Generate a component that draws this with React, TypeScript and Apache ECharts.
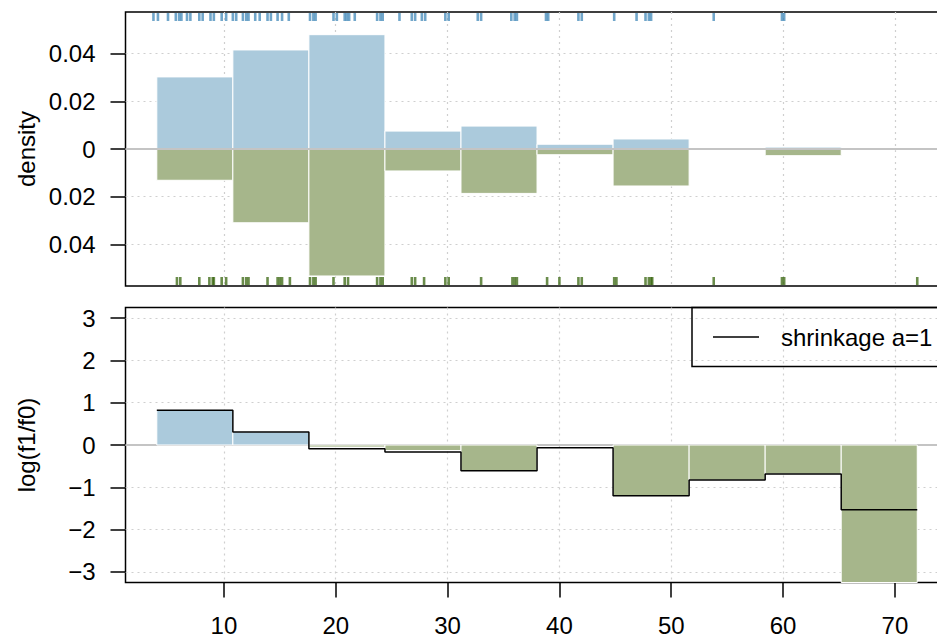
import React, { useEffect, useRef } from "react";
import * as echarts from "echarts";

// ---- data ----
const binEdges = [4, 10.8, 17.6, 24.4, 31.2, 38, 44.8, 51.6, 58.4, 65.2, 72];
const densityF1 = [0.0302, 0.0415, 0.0479, 0.0075, 0.0096, 0.002, 0.0042, 0.0003, 0.0008, 0];
const densityF0 = [0.0131, 0.0309, 0.0532, 0.0092, 0.0186, 0.0024, 0.0155, 0.0003, 0.0028, 0.0003];
const logRatioBars = [0.82, 0.31, -0.05, -0.13, -0.61, 0, -1.2, -0.83, -0.685, -3.25];
const shrinkageA1 = [0.82, 0.31, -0.087, -0.165, -0.61, -0.063, -1.2, -0.83, -0.685, -1.53];
const rugF1 = [
  3.7, 4.1, 5.0, 5.7, 6.0, 6.2, 6.7, 7.0, 7.8, 8.1, 8.8, 9.1, 9.8, 10.2, 10.8, 11.1,
  11.7, 12.0, 12.2, 12.8, 13.2, 13.9, 14.2, 14.8, 15.2, 15.8, 17.7, 18.0, 18.2, 19.8,
  20.1, 20.8, 21.0, 21.2, 21.7, 23.7, 24.0, 24.2, 25.7, 26.8, 27.1, 27.7, 28.0, 29.8,
  30.1, 32.7, 33.0, 35.7, 36.0, 36.2, 38.8, 39.0, 41.7, 42.0, 44.9, 46.9, 47.7, 48.0,
  48.2, 53.8, 59.9, 60.1,
];
const rugF0 = [
  5.8, 6.1, 7.8, 8.7, 9.0, 9.1, 9.8, 10.2, 11.7, 12.0, 12.2, 13.9, 14.8, 15.0, 15.2,
  15.9, 17.7, 18.0, 18.2, 19.8, 20.8, 21.1, 23.7, 24.0, 24.2, 26.8, 27.1, 27.9, 29.8,
  30.1, 33.0, 35.8, 36.0, 36.2, 38.9, 40.0, 41.7, 42.0, 44.9, 45.1, 47.7, 48.0, 48.2,
  48.3, 53.8, 59.9, 60.1, 72.0,
];
const xTicks = [10, 20, 30, 40, 50, 60, 70];
const densityTicks = [-0.04, -0.02, 0, 0.02, 0.04];
const logTicks = [-3, -2, -1, 0, 1, 2, 3];
const X_RANGE = [1.2, 74.8];
const DENSITY_RANGE = [-0.0574, 0.0574];
const LOG_RANGE = [-3.25, 3.25];
const legendLabel = "shrinkage a=1";

const BLUE = "#abcadc";
const GREEN = "#a6b68b";
const FONT = "Liberation Sans, Arial, Helvetica, sans-serif";

function barRender(params: any, api: any) {
  const x0 = api.value(0);
  const x1 = api.value(1);
  const v = api.value(2);
  if (v === 0) return { type: "group", children: [] };
  const p0 = api.coord([x0, 0]);
  const p1 = api.coord([x1, v]);
  const cs = params.coordSys;
  let yTop = Math.min(p0[1], p1[1]);
  let yBot = Math.max(p0[1], p1[1]);
  yTop = Math.max(yTop, cs.y);
  yBot = Math.min(yBot, cs.y + cs.height);
  return {
    type: "rect",
    shape: { x: p0[0], y: yTop, width: p1[0] - p0[0], height: yBot - yTop },
    style: { fill: v >= 0 ? BLUE : GREEN, stroke: "#ffffff", lineWidth: 1 },
  };
}

function rugRender(top: boolean, color: string) {
  return (params: any, api: any) => {
    const x = api.coord([api.value(0), 0])[0];
    const cs = params.coordSys;
    const y1 = top ? cs.y + 1 : cs.y + cs.height - 9;
    const y2 = top ? cs.y + 9 : cs.y + cs.height - 1;
    return {
      type: "line",
      shape: { x1: x, y1, x2: x, y2 },
      style: { stroke: color, lineWidth: 2.6 },
    };
  };
}

const splitLine = {
  show: true,
  lineStyle: { color: "#cfcfcf", type: [2, 4], width: 1.2 },
};

export default function App() {
  const ref = useRef<HTMLDivElement>(null);
  useEffect(() => {
    if (!ref.current) return;
    const chart = echarts.init(ref.current, undefined, { renderer: "svg" });
    const bins = binEdges.slice(0, -1);
    const topF1 = bins.map((e, i) => [e, binEdges[i + 1], densityF1[i]]);
    const topF0 = bins.map((e, i) => [e, binEdges[i + 1], -densityF0[i]]);
    const lowBars = bins.map((e, i) => [e, binEdges[i + 1], logRatioBars[i]]);
    const stepData = binEdges.map((e, i) => [e, shrinkageA1[Math.min(i, shrinkageA1.length - 1)]]);
    const zeroLine = [
      [X_RANGE[0], 0],
      [X_RANGE[1], 0],
    ];

    const gridW = (X_RANGE[1] - X_RANGE[0]) * 11.183;

    chart.setOption({
      animation: false,
      backgroundColor: "#ffffff",
      textStyle: { fontFamily: FONT },
      grid: [
        { left: 125.5, width: gridW, top: 12, height: 274, show: true, borderColor: "#000", borderWidth: 1.5, backgroundColor: "transparent" },
        { left: 125.5, width: gridW, top: 307.5, height: 275, show: true, borderColor: "#000", borderWidth: 1.5, backgroundColor: "transparent" },
      ],
      xAxis: [
        {
          type: "value",
          gridIndex: 0,
          position: "bottom",
          min: X_RANGE[0],
          max: X_RANGE[1],
          axisLine: { show: false, onZero: false },
          axisTick: { show: false, customValues: xTicks },
          axisLabel: { show: false, customValues: xTicks },
          splitLine,
        },
        {
          type: "value",
          gridIndex: 1,
          position: "bottom",
          min: X_RANGE[0],
          max: X_RANGE[1],
          axisLine: { show: false, onZero: false },
          axisTick: { show: true, length: 15, customValues: xTicks, lineStyle: { color: "#000", width: 1.5 } },
          axisLabel: { customValues: xTicks, fontSize: 24, color: "#000", fontFamily: FONT, margin: 31 },
          splitLine,
        },
      ],
      yAxis: [
        {
          type: "value",
          gridIndex: 0,
          min: DENSITY_RANGE[0],
          max: DENSITY_RANGE[1],
          axisLine: { show: false, onZero: false },
          axisTick: { show: true, length: 15, customValues: densityTicks, lineStyle: { color: "#000", width: 1.5 } },
          axisLabel: {
            customValues: densityTicks,
            fontSize: 24,
            color: "#000",
            fontFamily: FONT,
            margin: 30,
            formatter: (v: number) => (Math.abs(v) < 1e-9 ? "0" : String(Math.round(Math.abs(v) * 100) / 100)),
          },
          splitLine,
        },
        {
          type: "value",
          gridIndex: 1,
          min: LOG_RANGE[0],
          max: LOG_RANGE[1],
          axisLine: { show: false, onZero: false },
          axisTick: { show: true, length: 15, customValues: logTicks, lineStyle: { color: "#000", width: 1.5 } },
          axisLabel: {
            customValues: logTicks,
            fontSize: 24,
            color: "#000",
            fontFamily: FONT,
            margin: 30,
            formatter: (v: number) => (v < 0 ? "\u2212" + Math.abs(Math.round(v)) : String(Math.round(v))),
          },
          splitLine,
        },
      ],
      series: [
        {
          type: "custom",
          name: "f1 density",
          xAxisIndex: 0,
          yAxisIndex: 0,
          renderItem: barRender,
          encode: { x: [0, 1], y: 2 },
          data: topF1,
          z: 2,
        },
        {
          type: "custom",
          name: "f0 density",
          xAxisIndex: 0,
          yAxisIndex: 0,
          renderItem: barRender,
          encode: { x: [0, 1], y: 2 },
          data: topF0,
          z: 2,
        },
        {
          type: "line",
          xAxisIndex: 0,
          yAxisIndex: 0,
          data: zeroLine,
          symbol: "none",
          lineStyle: { color: "#c4c4c4", width: 2 },
          z: 3,
          silent: true,
        },
        {
          type: "custom",
          name: "rug f1",
          xAxisIndex: 0,
          yAxisIndex: 0,
          renderItem: rugRender(true, "rgba(52,128,180,0.7)"),
          encode: { x: 0, y: 1 },
          data: rugF1.map((v) => [v, 0]),
          z: 4,
        },
        {
          type: "custom",
          name: "rug f0",
          xAxisIndex: 0,
          yAxisIndex: 0,
          renderItem: rugRender(false, "rgba(56,102,15,0.75)"),
          encode: { x: 0, y: 1 },
          data: rugF0.map((v) => [v, 0]),
          z: 4,
        },
        {
          type: "line",
          xAxisIndex: 1,
          yAxisIndex: 1,
          data: zeroLine,
          symbol: "none",
          lineStyle: { color: "#c4c4c4", width: 2 },
          z: 1,
          silent: true,
        },
        {
          type: "custom",
          name: "log ratio",
          xAxisIndex: 1,
          yAxisIndex: 1,
          renderItem: barRender,
          encode: { x: [0, 1], y: 2 },
          data: lowBars,
          z: 2,
        },
        {
          type: "line",
          name: legendLabel,
          xAxisIndex: 1,
          yAxisIndex: 1,
          data: stepData,
          step: "end",
          symbol: "none",
          lineStyle: { color: "#000", width: 1.5 },
          z: 5,
        },
      ],
      graphic: [
        {
          type: "text",
          x: 26,
          y: 149,
          rotation: Math.PI / 2,
          style: { text: "density", fontSize: 24, fontFamily: FONT, fill: "#000", align: "center", verticalAlign: "middle" },
        },
        {
          type: "text",
          x: 26,
          y: 445,
          rotation: Math.PI / 2,
          style: { text: "log(f1/f0)", fontSize: 24, fontFamily: FONT, fill: "#000", align: "center", verticalAlign: "middle" },
        },
        {
          type: "rect",
          shape: { x: 692, y: 307.5, width: 300, height: 59 },
          style: { fill: "none", stroke: "#000", lineWidth: 1.5 },
          z: 10,
        },
        {
          type: "line",
          shape: { x1: 713, y1: 337, x2: 759, y2: 337 },
          style: { stroke: "#000", lineWidth: 1.5 },
          z: 10,
        },
        {
          type: "text",
          x: 781,
          y: 337,
          style: { text: legendLabel, fontSize: 24, fontFamily: FONT, fill: "#000", align: "left", verticalAlign: "middle" },
          z: 10,
        },
      ],
    });
    return () => chart.dispose();
  }, []);
  return (
    <div style={{ position: "absolute", left: 0, top: 0, width: 937, height: 638, overflow: "hidden" }}>
      <div ref={ref} style={{ width: 980, height: 638 }} />
    </div>
  );
}
